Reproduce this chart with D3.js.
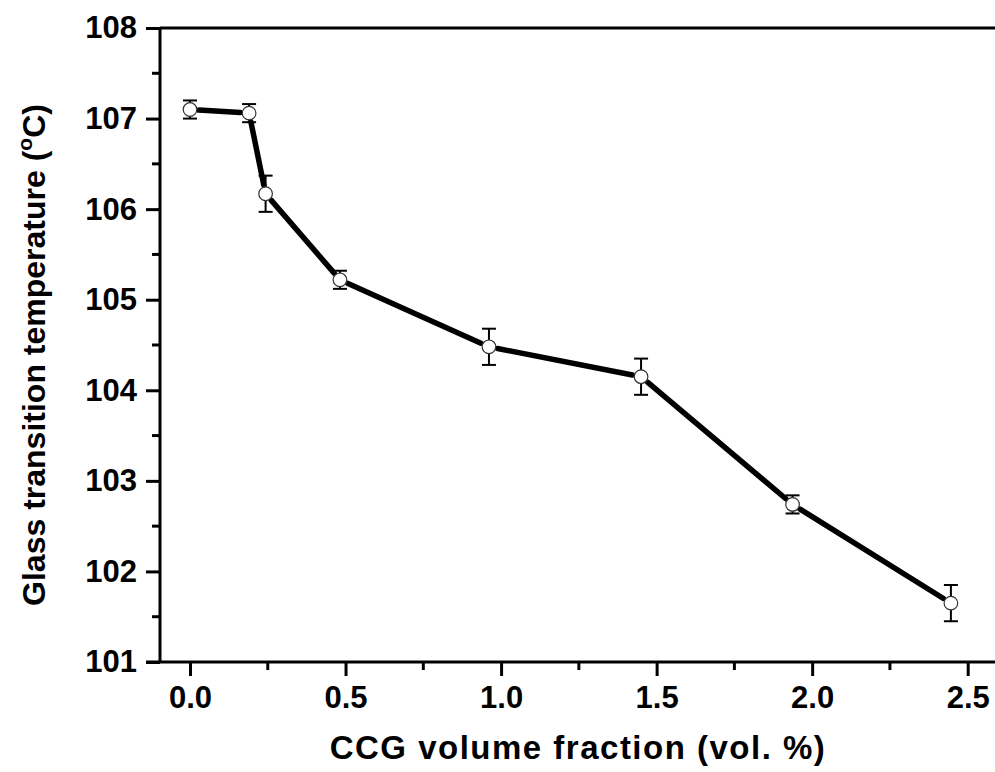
<!DOCTYPE html>
<html><head><meta charset="utf-8">
<script src="https://cdn.jsdelivr.net/npm/d3@7"></script>
<style>body{margin:0;background:#fff}svg{display:block}text{font-family:Arial,"Liberation Sans",sans-serif;font-weight:bold;fill:#000}</style>
</head><body><svg id="c" width="995" height="772"></svg>
<script>
const fractions = [0, 0.19, 0.243, 0.482, 0.961, 1.45, 1.937, 2.446];
const tg        = [107.10, 107.06, 106.17, 105.22, 104.48, 104.15, 102.74, 101.65];
const tgErr     = [0.10, 0.10, 0.20, 0.10, 0.20, 0.20, 0.10, 0.20];
const xTicks = [0, 0.5, 1.0, 1.5, 2.0, 2.5];
const yTicks = [101, 102, 103, 104, 105, 106, 107, 108];
const xLabel = "CCG volume fraction (vol. %)";

const svg = d3.select("#c");
const L = 160, R = 995, T = 28, B = 662;
const x = d3.scaleLinear().domain([0, 2.5]).range([190, 967.7]);
const y = d3.scaleLinear().domain([101, 108]).range([B, T]);

// frame
svg.append("line").attr("x1", L).attr("x2", R + 2).attr("y1", T).attr("y2", T).attr("stroke", "#000").attr("stroke-width", 3);

// minor ticks
const xMinor = d3.range(0.25, 2.6, 0.5);
const yMinor = d3.range(101.5, 108, 1);
svg.append("g").selectAll("line").data(xMinor).join("line")
  .attr("x1", d => x(d)).attr("x2", d => x(d)).attr("y1", B).attr("y2", B + 8)
  .attr("stroke", "#000").attr("stroke-width", 3);
svg.append("g").selectAll("line").data(yMinor).join("line")
  .attr("y1", d => y(d)).attr("y2", d => y(d)).attr("x1", L).attr("x2", L - 8)
  .attr("stroke", "#000").attr("stroke-width", 3);

// axes
const xAxis = d3.axisBottom(x).tickValues(xTicks).tickFormat(d3.format(".1f")).tickSize(14).tickPadding(10);
const gx = svg.append("g").attr("transform", `translate(0,${B})`).call(xAxis);
gx.select(".domain").remove();
gx.selectAll(".tick line").attr("stroke-width", 3);
gx.selectAll("text").attr("font-size", 31).attr("font-family", "Arial,'Liberation Sans',sans-serif").attr("font-weight", "bold");
svg.append("line").attr("x1", L - 14).attr("x2", R + 2).attr("y1", B).attr("y2", B).attr("stroke", "#000").attr("stroke-width", 3);

const yAxis = d3.axisLeft(y).tickValues(yTicks).tickFormat(d3.format("d")).tickSize(14).tickPadding(9);
const gy = svg.append("g").attr("transform", `translate(${L},0)`).call(yAxis);
gy.select(".domain").remove();
gy.selectAll(".tick line").attr("stroke-width", 3);
gy.selectAll("text").attr("font-size", 31).attr("font-family", "Arial,'Liberation Sans',sans-serif").attr("font-weight", "bold");
svg.append("line").attr("x1", L).attr("x2", L).attr("y1", T).attr("y2", B).attr("stroke", "#000").attr("stroke-width", 3);

// titles
svg.append("text").attr("x", 578).attr("y", 759).attr("text-anchor", "middle").attr("font-size", 33)
  .attr("letter-spacing", 1.5).text(xLabel);
const yt = svg.append("text").attr("transform", "translate(45,355) rotate(-90)").attr("text-anchor", "middle").attr("font-size", 32);
yt.append("tspan").text("Glass transition temperature (");
yt.append("tspan").attr("font-size", 21).attr("dy", -13).text("o");
yt.append("tspan").attr("dy", 13).text("C)");

// data
const pts = fractions.map((f, i) => ({ f, v: tg[i], e: tgErr[i] }));
const r = 6.8;
const segs = d3.pairs(pts);
svg.append("g").selectAll("line").data(segs).join("line")
  .each(function([a, b]) {
    const x1 = x(a.f), y1 = y(a.v), x2 = x(b.f), y2 = y(b.v);
    const len = Math.hypot(x2 - x1, y2 - y1), g = r + 2;
    const ux = (x2 - x1) / len, uy = (y2 - y1) / len;
    d3.select(this).attr("x1", x1 + ux * g).attr("y1", y1 + uy * g)
      .attr("x2", x2 - ux * g).attr("y2", y2 - uy * g);
  })
  .attr("stroke", "#000").attr("stroke-width", 5.5).attr("stroke-linecap", "round");

const eb = svg.append("g").selectAll("g").data(pts).join("g");
eb.append("line").attr("x1", d => x(d.f)).attr("x2", d => x(d.f))
  .attr("y1", d => y(d.v + d.e)).attr("y2", d => y(d.v - d.e)).attr("stroke", "#000").attr("stroke-width", 2);
eb.append("line").attr("x1", d => x(d.f) - 7).attr("x2", d => x(d.f) + 7)
  .attr("y1", d => y(d.v + d.e)).attr("y2", d => y(d.v + d.e)).attr("stroke", "#000").attr("stroke-width", 2);
eb.append("line").attr("x1", d => x(d.f) - 7).attr("x2", d => x(d.f) + 7)
  .attr("y1", d => y(d.v - d.e)).attr("y2", d => y(d.v - d.e)).attr("stroke", "#000").attr("stroke-width", 2);
eb.append("circle").attr("cx", d => x(d.f)).attr("cy", d => y(d.v)).attr("r", r)
  .attr("fill", "#fff").attr("stroke", "#333").attr("stroke-width", 1.2);
</script></body></html>
